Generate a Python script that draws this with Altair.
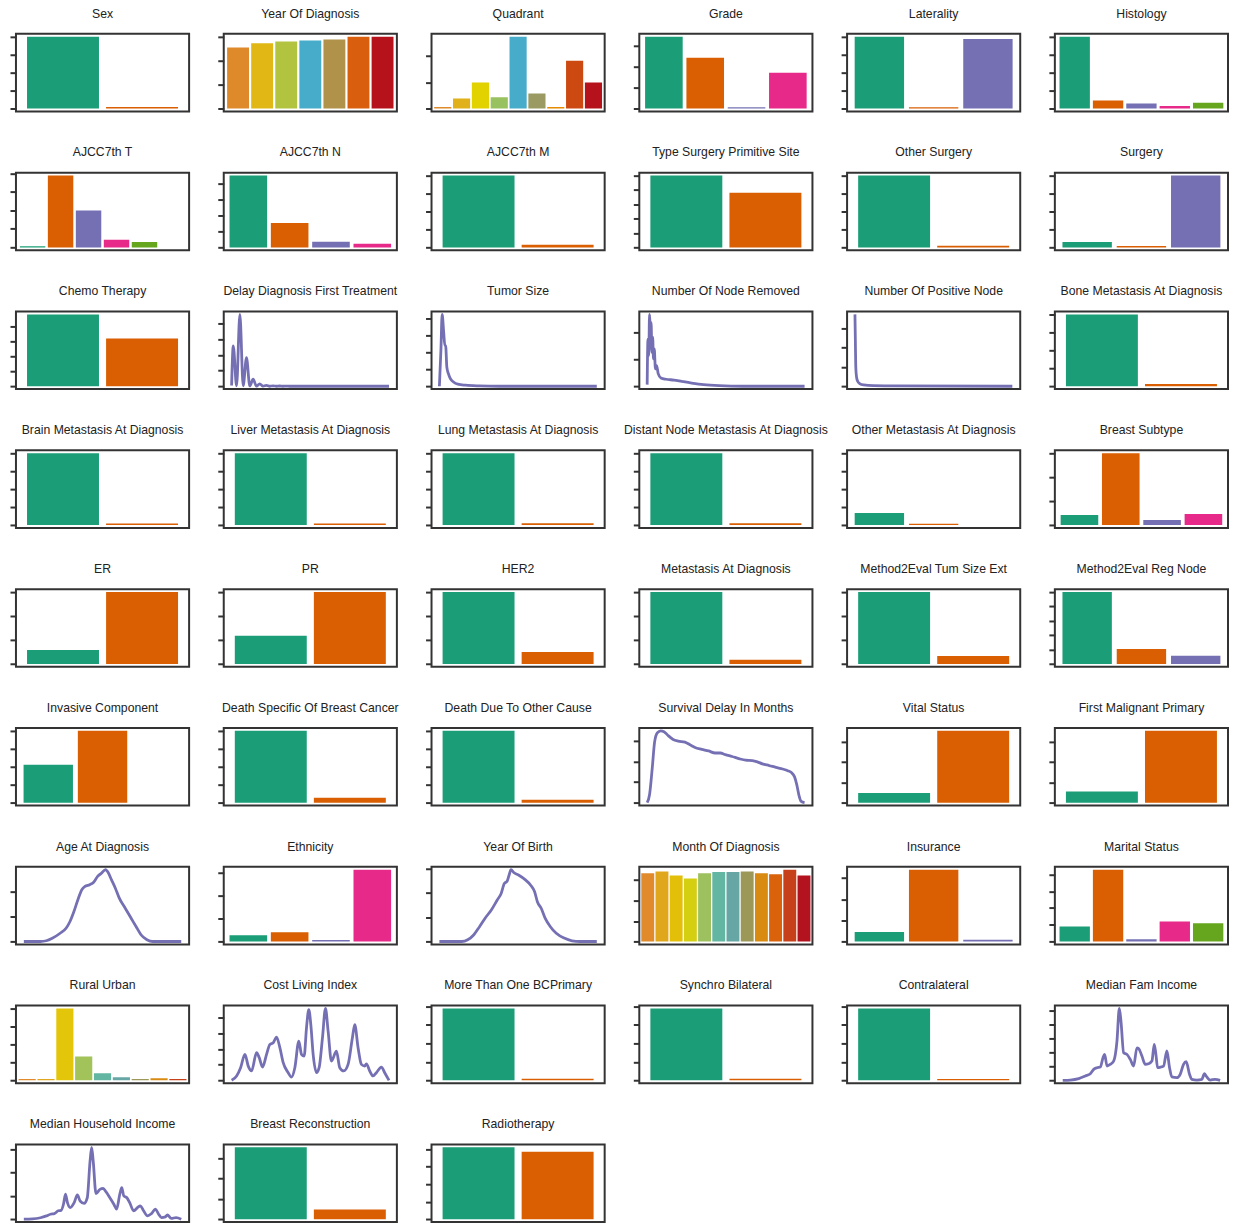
import altair as alt
import pandas as pd

# ---------------- palettes ----------------
DARK2 = ["#1b9e77", "#d95f02", "#7570b3", "#e7298a", "#66a61e"]
YEAR_COLORS = ["#de8a2b", "#e0b714", "#b2c43f", "#47acc9", "#b0924a", "#d95f0e", "#b5121b"]
QUAD_COLORS = ["#de8b2b", "#e0b11a", "#e2d200", "#98c15f", "#47acc9", "#9a9a62", "#e68a00", "#cc4a12", "#b5121b"]
MONTH_COLORS = ["#e08a2c", "#e1a71c", "#e3bf0a", "#d5cf12", "#9ec15f", "#63b6a2",
                "#66a6a4", "#9b9858", "#d98a10", "#d9620a", "#c6401a", "#b3121f"]
RURAL_COLORS = ["#e08a2c", "#e1a71c", "#e3c60a", "#a2c25a", "#63b6a2", "#66a6a4", "#9b9858", "#d98a10", "#c6401a"]
LINE_COLOR = "#7570b3"

# ---------------- bar data (heights in y-tick units) ----------------
SEX = [4.0, 0.09]
YEAR_OF_DIAGNOSIS = [2.55, 2.73, 2.80, 2.84, 2.88, 3.0, 3.0]
QUADRANT = [0.06, 0.38, 0.99, 0.43, 2.72, 0.57, 0.06, 1.81, 0.99]
GRADE = [3.43, 2.43, 0.06, 1.71]
LATERALITY = [4.0, 0.08, 3.88]
HISTOLOGY = [4.0, 0.45, 0.28, 0.15, 0.33]
AJCC_T = [0.06, 3.88, 1.99, 0.41, 0.29, 0.0]
AJCC_N = [4.52, 1.54, 0.35, 0.23]
AJCC_M = [4.0, 0.15]
TYPE_SURGERY = [5.0, 3.8]
OTHER_SURGERY = [4.0, 0.1]
SURGERY = [0.3, 0.08, 4.0]
CHEMO = [4.81, 3.2]
BONE_MET = [4.0, 0.12]
BRAIN_MET = [4.0, 0.09]
LIVER_MET = [4.0, 0.09]
LUNG_MET = [4.0, 0.1]
DISTANT_NODE_MET = [4.0, 0.1]
OTHER_MET = [0.67, 0.08, 0.0]
OTHER_MET_MAX = 4.0
BREAST_SUBTYPE = [0.42, 3.0, 0.21, 0.46]
ER = [0.58, 3.0]
PR = [1.17, 3.0]
HER2 = [3.0, 0.5]
METASTASIS_AT_DIAG = [3.0, 0.17]
M2E_TUM_SIZE = [3.0, 0.33]
M2E_REG_NODE = [5.0, 1.04, 0.56]
INVASIVE = [2.11, 4.0, 0.0]
DEATH_SPECIFIC = [4.0, 0.28]
DEATH_OTHER = [4.0, 0.17]
VITAL_STATUS = [0.48, 3.53]
FIRST_MALIGNANT = [0.55, 3.53]
ETHNICITY = [0.28, 0.41, 0.07, 3.15]
MONTH_OF_DIAGNOSIS = [3.34, 3.42, 3.23, 3.08, 3.34, 3.39, 3.39, 3.42, 3.34, 3.29, 3.51, 3.23]
INSURANCE = [0.45, 3.39, 0.08]
MARITAL = [0.9, 4.29, 0.14, 1.19, 1.09]
RURAL_URBAN = [0.08, 0.08, 4.0, 1.33, 0.39, 0.17, 0.08, 0.11, 0.08]
MORE_THAN_ONE = [3.89, 0.09]
SYNCHRO = [3.89, 0.08]
CONTRALATERAL = [3.89, 0.07]
RECONSTRUCTION = [3.52, 0.47]
RADIOTHERAPY = [4.11, 3.85]

# ---------------- density curves (x on a 0..100 relative scale) ----------------
DELAY_X = [0, 1.05, 3.15, 5.25, 7.35, 9.45, 11.55, 13.66, 15.76, 17.86, 19.96, 22.06, 24.2, 26.3, 28.4, 30.5, 32.6, 34.7, 36.8, 100]
DELAY_Y = [0.05, 2.57, 0.03, 4.58, 0.03, 1.82, 0.02, 0.46, 0.01, 0.15, 0.01, 0.06, 0.0, 0.03, 0.0, 0.015, 0.0, 0.01, 0.0, 0.0]

TUMOR_X = [0, 1.0, 1.74, 2.74, 3.48, 3.98, 4.73, 5.72, 6.97, 8.96, 11.7, 16.7, 25.4, 37.8, 100]
TUMOR_Y = [0, 2.19, 4.23, 3.17, 2.39, 2.39, 1.13, 0.74, 0.45, 0.25, 0.12, 0.06, 0.02, 0.0, 0.0]

NODE_REMOVED_X = [0, 0.5, 1, 1.5, 2, 2.5, 3, 3.5, 4, 4.5, 5.25, 6, 7, 8.75, 12, 17, 22, 28.25, 35.75, 45.75, 60.75, 100]
NODE_REMOVED_Y = [0.06, 1.75, 1.14, 2.67, 2.12, 2.37, 1.26, 1.82, 1.02, 1.39, 0.65, 0.77, 0.47, 0.31, 0.26, 0.23, 0.18, 0.12, 0.06, 0.02, 0.0, 0.0]

POS_NODE_X = [0, 0.25, 0.5, 1.0, 1.74, 2.99, 5.47, 11.7, 24.1, 100]
POS_NODE_Y = [3.71, 2.44, 1.07, 0.48, 0.26, 0.14, 0.07, 0.03, 0.02, 0.0]

SURVIVAL_X = [0, 1.5, 3.21, 4.71, 6.42, 8.57, 10.71, 13.28, 16.49, 19.7, 23.98, 27.19, 30.41, 34.69, 38.97,
              43.25, 46.47, 49.68, 53.96, 58.24, 62.53, 66.81, 70.02, 73.23, 77.52, 81.8, 86.08, 89.29,
              91.43, 93.58, 95.07, 96.36, 97.86, 100]
SURVIVAL_Y = [0, 0.385, 1.67, 2.95, 3.40, 3.50, 3.46, 3.27, 3.08, 3.0, 2.95, 2.82, 2.69, 2.60, 2.52,
              2.42, 2.42, 2.34, 2.25, 2.15, 2.07, 2.05, 1.99, 1.89, 1.81, 1.72, 1.64, 1.56,
              1.48, 1.27, 0.87, 0.385, 0.06, 0]

AGE_X = [0, 10.53, 14.29, 18.05, 23.06, 26.82, 29.32, 31.83, 34.34, 36.84, 38.85, 41.85, 44.36, 46.87,
         49.37, 51.88, 53.13, 55.64, 58.15, 60.65, 64.41, 68.17, 71.93, 74.44, 78.2, 81.95, 100]
AGE_Y = [0, 0, 0.03, 0.13, 0.33, 0.53, 0.8, 1.2, 1.67, 2.07, 2.2, 2.27, 2.37, 2.6,
         2.73, 2.87, 2.8, 2.47, 2.13, 1.73, 1.33, 0.93, 0.53, 0.27, 0.07, 0, 0]

BIRTH_X = [0, 14.25, 18, 21.75, 25.5, 29.25, 33, 36.75, 39.25, 41.25, 43, 44.25, 45.5, 47.25, 50.5,
           54.25, 58, 60.5, 62.25, 64.75, 67.25, 70.5, 74.25, 79.25, 84.25, 89.25, 100]
BIRTH_Y = [0, 0, 0.07, 0.27, 0.61, 0.98, 1.30, 1.71, 1.98, 2.39, 2.48, 2.73, 2.96, 2.84, 2.73,
           2.56, 2.32, 2.05, 1.64, 1.36, 0.95, 0.61, 0.34, 0.14, 0.03, 0, 0]

COST_X = [0, 3.17, 5.71, 8.46, 10.57, 12.68, 15.86, 17.55, 19.66, 22.2, 24.31, 26.43, 28.54, 30.66,
          32.77, 35.94, 38.05, 40.17, 42.71, 44.4, 46.09, 47.57, 49.05, 50.32, 51.8, 53.91, 55.6,
          57.72, 59.62, 61.31, 63.42, 66.6, 68.71, 71.25, 73.99, 76.74, 78.22, 80.34, 82.45,
          84.57, 85.62, 87.74, 89.85, 91.97, 95.14, 97.25, 100]
COST_Y = [0, 0.28, 0.81, 1.66, 0.91, 0.60, 1.77, 1.45, 0.85, 1.66, 2.30, 2.40, 2.77, 2.09,
          1.13, 0.49, 0.21, 0.81, 2.51, 1.66, 1.55, 3.36, 4.53, 3.57, 1.66, 0.49, 0.81,
          2.72, 4.60, 3.15, 1.23, 1.87, 0.81, 0.60, 1.02, 2.72, 3.57, 2.09, 1.02,
          0.91, 1.06, 0.60, 0.28, 0.49, 0.85, 0.49, 0]

FAM_INCOME_X = [0, 4.86, 10.15, 14.38, 17.55, 19.66, 21.78, 23.89, 25.58, 26.64, 28.12, 30.23, 32.35,
                34.46, 35.94, 37.0, 38.69, 40.8, 42.92, 45.03, 47.15, 48.2, 50.32, 52.43, 54.55,
                56.66, 58.14, 59.2, 60.25, 62.37, 64.06, 66.17, 67.86, 69.34, 72.52, 74.63, 76.74,
                78.44, 80.55, 82.03, 85.2, 88.37, 90.06, 91.54, 93.66, 96.83, 100]
FAM_INCOME_Y = [0, 0.02, 0.12, 0.31, 0.47, 0.78, 0.90, 0.95, 1.61, 1.85, 1.02, 1.14, 1.37,
                2.80, 5.12, 4.22, 1.97, 1.85, 1.49, 1.02, 2.32, 2.27, 1.73, 1.14, 1.18,
                1.37, 2.56, 1.85, 0.90, 0.95, 1.02, 2.09, 0.90, 0.24, 0.19, 0.43, 1.14,
                1.33, 0.43, 0.07, 0.02, 0.07, 0.47, 0.24, 0.02, 0.07, 0]

HH_INCOME_X = [0, 5.54, 10.58, 14.36, 16.88, 19.4, 21.91, 23.68, 25.19, 26.45, 27.71, 29.47, 31.99,
               34.01, 35.77, 38.29, 40.3, 42.07, 43.07, 44.08, 45.84, 48.36, 50.38, 52.14, 54.66,
               57.18, 58.94, 60.96, 62.22, 63.48, 65.49, 67.25, 69.77, 72.29, 74.06, 76.07, 78.59,
               81.11, 83.63, 85.64, 87.41, 89.92, 91.18, 93.7, 96.73, 100]
HH_INCOME_Y = [0, 0.01, 0.06, 0.14, 0.21, 0.24, 0.36, 0.38, 0.64, 1.07, 0.71, 0.50, 0.71,
               1.04, 0.78, 0.68, 0.92, 2.49, 3.09, 2.49, 1.10, 1.28, 1.32, 1.18, 0.92,
               0.64, 0.43, 1.07, 1.35, 1.00, 0.92, 0.71, 0.36, 0.50, 0.57, 0.36, 0.14,
               0.24, 0.43, 0.21, 0.07, 0.10, 0.18, 0.03, 0.07, 0]

# ---------------- panel list: (title, kind, data, top tick, colours) ----------------
PANELS = [
    ("Sex", "bar", SEX, 4, DARK2),
    ("Year Of Diagnosis", "bar", YEAR_OF_DIAGNOSIS, 3, YEAR_COLORS),
    ("Quadrant", "bar", QUADRANT, 2, QUAD_COLORS),
    ("Grade", "bar", GRADE, 3, DARK2),
    ("Laterality", "bar", LATERALITY, 4, DARK2),
    ("Histology", "bar", HISTOLOGY, 4, DARK2),
    ("AJCC7th T", "bar", AJCC_T, 4, DARK2),
    ("AJCC7th N", "bar", AJCC_N, 4, DARK2),
    ("AJCC7th M", "bar", AJCC_M, 4, DARK2),
    ("Type Surgery Primitive Site", "bar", TYPE_SURGERY, 5, DARK2),
    ("Other Surgery", "bar", OTHER_SURGERY, 4, DARK2),
    ("Surgery", "bar", SURGERY, 4, DARK2),
    ("Chemo Therapy", "bar", CHEMO, 4, DARK2),
    ("Delay Diagnosis First Treatment", "line", (DELAY_X, DELAY_Y), 4, None),
    ("Tumor Size", "line", (TUMOR_X, TUMOR_Y), 4, None),
    ("Number Of Node Removed", "line", (NODE_REMOVED_X, NODE_REMOVED_Y), 2, None),
    ("Number Of Positive Node", "line", (POS_NODE_X, POS_NODE_Y), 3, None),
    ("Bone Metastasis At Diagnosis", "bar", BONE_MET, 4, DARK2),
    ("Brain Metastasis At Diagnosis", "bar", BRAIN_MET, 4, DARK2),
    ("Liver Metastasis At Diagnosis", "bar", LIVER_MET, 4, DARK2),
    ("Lung Metastasis At Diagnosis", "bar", LUNG_MET, 4, DARK2),
    ("Distant Node Metastasis At Diagnosis", "bar", DISTANT_NODE_MET, 4, DARK2),
    ("Other Metastasis At Diagnosis", "bar", OTHER_MET, 4, DARK2),
    ("Breast Subtype", "bar", BREAST_SUBTYPE, 3, DARK2),
    ("ER", "bar", ER, 3, DARK2),
    ("PR", "bar", PR, 3, DARK2),
    ("HER2", "bar", HER2, 3, DARK2),
    ("Metastasis At Diagnosis", "bar", METASTASIS_AT_DIAG, 3, DARK2),
    ("Method2Eval Tum Size Ext", "bar", M2E_TUM_SIZE, 3, DARK2),
    ("Method2Eval Reg Node", "bar", M2E_REG_NODE, 5, DARK2),
    ("Invasive Component", "bar", INVASIVE, 4, DARK2),
    ("Death Specific Of Breast Cancer", "bar", DEATH_SPECIFIC, 4, DARK2),
    ("Death Due To Other Cause", "bar", DEATH_OTHER, 4, DARK2),
    ("Survival Delay In Months", "line", (SURVIVAL_X, SURVIVAL_Y), 3, None),
    ("Vital Status", "bar", VITAL_STATUS, 3, DARK2),
    ("First Malignant Primary", "bar", FIRST_MALIGNANT, 3, DARK2),
    ("Age At Diagnosis", "line", (AGE_X, AGE_Y), 3, None),
    ("Ethnicity", "bar", ETHNICITY, 3, DARK2),
    ("Year Of Birth", "line", (BIRTH_X, BIRTH_Y), 3, None),
    ("Month Of Diagnosis", "bar", MONTH_OF_DIAGNOSIS, 3, MONTH_COLORS),
    ("Insurance", "bar", INSURANCE, 3, DARK2),
    ("Marital Status", "bar", MARITAL, 4, DARK2),
    ("Rural Urban", "bar", RURAL_URBAN, 4, RURAL_COLORS),
    ("Cost Living Index", "line", (COST_X, COST_Y), 4, None),
    ("More Than One BCPrimary", "bar", MORE_THAN_ONE, 4, DARK2),
    ("Synchro Bilateral", "bar", SYNCHRO, 4, DARK2),
    ("Contralateral", "bar", CONTRALATERAL, 4, DARK2),
    ("Median Fam Income", "line", (FAM_INCOME_X, FAM_INCOME_Y), 5, None),
    ("Median Household Income", "line", (HH_INCOME_X, HH_INCOME_Y), 3, None),
    ("Breast Reconstruction", "bar", RECONSTRUCTION, 3, DARK2),
    ("Radiotherapy", "bar", RADIOTHERAPY, 4, DARK2),
]
YMAX_OVERRIDE = {"Other Metastasis At Diagnosis": OTHER_MET_MAX}

W, H = 174, 78
FONT = "Liberation Sans"


def y_axis(top_tick):
    return alt.Axis(values=list(range(top_tick + 1)), labels=False, domain=False, grid=False,
                    ticks=True, tickSize=6, tickWidth=2, tickColor="#333333", title=None)


def title_params(text):
    return alt.TitleParams(text=text, font=FONT, fontSize=12.3, fontWeight="normal",
                           color="#222222", offset=14, anchor="middle", frame="group")


def bar_panel(title, vals, top_tick, colors):
    n = len(vals)
    cats = ["k%d" % i for i in range(n)]
    df = pd.DataFrame({"cat": cats, "v": vals, "z": [0.0] * n})
    m = YMAX_OVERRIDE.get(title, max(vals))
    dom = [-0.04 * m, 1.04 * m]
    return alt.Chart(df).mark_bar(clip=True).encode(
        x=alt.X("cat:N", sort=cats, axis=None,
                scale=alt.Scale(paddingInner=0.09, paddingOuter=0.14)),
        y=alt.Y("v:Q", scale=alt.Scale(domain=dom, nice=False, zero=False), axis=y_axis(top_tick)),
        y2="z:Q",
        color=alt.Color("cat:N", sort=cats,
                        scale=alt.Scale(domain=cats, range=list(colors[:n])),
                        legend=None),
    ).properties(width=W, height=H, title=title_params(title))


def line_panel(title, xs, ys, top_tick):
    df = pd.DataFrame({"u": xs, "v": ys})
    m = max(ys)
    dom = [-0.04 * m, 1.04 * m]
    return alt.Chart(df).mark_line(color=LINE_COLOR, strokeWidth=2.8, interpolate="monotone",
                                   clip=True).encode(
        x=alt.X("u:Q", axis=None, scale=alt.Scale(domain=[-5, 105], nice=False, zero=False)),
        y=alt.Y("v:Q", scale=alt.Scale(domain=dom, nice=False, zero=False), axis=y_axis(top_tick)),
    ).properties(width=W, height=H, title=title_params(title))


charts = []
for title, kind, data, top_tick, extra in PANELS:
    if kind == "bar":
        charts.append(bar_panel(title, data, top_tick, extra))
    else:
        charts.append(line_panel(title, data[0], data[1], top_tick))

chart = alt.concat(
    *charts, columns=6, spacing={"row": 61.5, "column": 34.8}, bounds="flush"
).resolve_scale(
    x="independent", y="independent", color="independent"
).properties(
    padding={"left": 0, "top": -5, "right": 0, "bottom": 0}, background="white"
).configure_view(
    stroke="#333333", strokeWidth=2
)

chart.save("out.html", embed_options={"renderer": "svg", "actions": False})
